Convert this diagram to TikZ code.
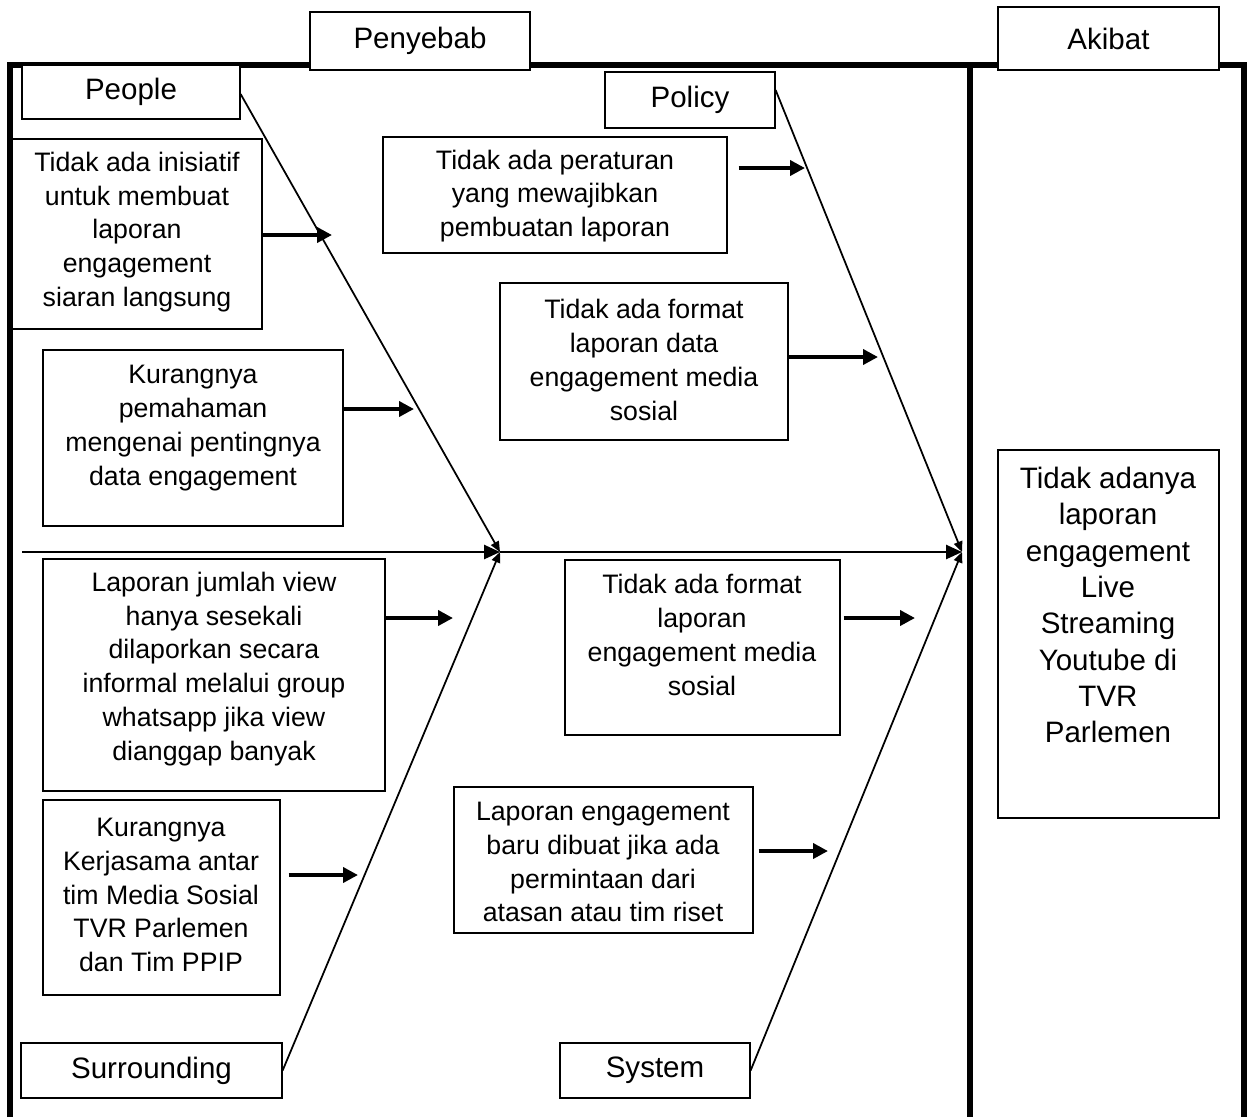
\documentclass[tikz,border=0pt]{standalone}
\usepackage{fontspec}
\setmainfont{Liberation Sans}
\usetikzlibrary{arrows.meta}
\newcommand\mkbox[6][]{%
  \node[box,#1, minimum width={(#5-#3)*0.02cm}, minimum height={(#6-#4)*0.02cm}] (#2) at ({(#3+#5)/2},{(#4+#6)/2}) {};}
\begin{document}
\begin{tikzpicture}[x=0.02cm,y=-0.02cm,
  frame/.style={line width=3pt},
  box/.style={draw, line width=0.7pt, fill=white, inner sep=0pt},
  txt/.style={align=center, inner sep=0pt, font=\fontsize{15.2}{19.3}\selectfont},
  bigtxt/.style={align=center, inner sep=0pt, font=\fontsize{16.8}{20.7}\selectfont},
  bone/.style={line width=1pt, -{Triangle[length=6pt,width=5pt]}},
  spine/.style={line width=1.1pt, -{Triangle[length=9pt,width=8pt]}},
  arr/.style={line width=2.7pt, -{Triangle[length=8.5pt,width=8.5pt]}}]
\useasboundingbox (0,0) rectangle (1247,1117);
% frame
\draw[frame] (10,1117) |- (1244,65) -- (1244,1117);
\draw[frame] (970,65) -- (970,1117);
% header boxes
\mkbox{penyebab}{310}{12}{530}{70}
\node[bigtxt] (penyebabt) at (penyebab) {Penyebab};
\mkbox{akibat}{998}{7}{1219}{70}
\node[bigtxt] (akibatt) at (akibat) {Akibat};
\mkbox{people}{22}{65}{240}{119}
\node[bigtxt] (peoplet) at (people) {People};
\mkbox{policy}{605}{72}{775}{128}
\node[bigtxt] (policyt) at (policy) {Policy};
\mkbox{surr}{21}{1043}{282}{1098}
\node[bigtxt] (surrt) at (surr) {Surrounding};
\mkbox{system}{560}{1043}{750}{1098}
\node[bigtxt] (systemt) at (system) {System};
% cause boxes
\mkbox{b1}{12}{139}{262}{329}
\node[txt] (t1) at (137,232) {Tidak ada inisiatif\\untuk membuat\\laporan\\engagement\\siaran langsung};
\mkbox{b2}{43}{350}{343}{526}
\node[txt] (t2) at (193,428) {Kurangnya\\pemahaman\\mengenai pentingnya\\data engagement};
\mkbox{b3}{383}{137}{727}{253}
\node[txt] (t3) at (555,196) {Tidak ada peraturan\\yang mewajibkan\\pembuatan laporan};
\mkbox{b4}{500}{283}{788}{440}
\node[txt] (t4) at (644,360) {Tidak ada format\\laporan data\\engagement media\\sosial};
\mkbox{b5}{43}{559}{385}{791}
\node[txt] (t5) at (214,669) {Laporan jumlah view\\hanya sesekali\\dilaporkan secara\\informal melalui group\\whatsapp jika view\\dianggap banyak};
\mkbox{b6}{565}{560}{840}{735}
\node[txt] (t6) at (702,635) {Tidak ada format\\laporan\\engagement media\\sosial};
\mkbox{b7}{43}{800}{280}{995}
\node[txt] (t7) at (161,895) {Kurangnya\\Kerjasama antar\\tim Media Sosial\\TVR Parlemen\\dan Tim PPIP};
\mkbox{b8}{454}{787}{753}{933}
\node[txt] (t8) at (603,862) {Laporan engagement\\baru dibuat jika ada\\permintaan dari\\atasan atau tim riset};
% effect box
\mkbox{res}{998}{450}{1219}{818}
\node[bigtxt] (rest) at (1108,605) {Tidak adanya\\laporan\\engagement\\Live\\Streaming\\Youtube di\\TVR\\Parlemen};
% spine and bones
\coordinate (s0) at (22,552);
\coordinate (j1) at (500,552);
\coordinate (j2) at (962,552);
\draw[spine] (s0) -- (j1);
\draw[spine] (j1) -- (j2);
\draw[bone] ([yshift=-0.04cm]people.east) -- (j1);
\draw[bone] (surr.east) -- (j1);
\draw[bone] ([yshift=0.2cm]policy.east) -- (j2);
\draw[bone] (system.east) -- (j2);
% small arrows
\coordinate (e1) at (332,235);
\coordinate (e2) at (414,409);
\coordinate (e3) at (805,168);
\coordinate (e4) at (878,357);
\coordinate (e5) at (453,618);
\coordinate (e6) at (915,618);
\coordinate (e7) at (358,875);
\coordinate (e8) at (828,851);
\draw[arr] (b1.east |- e1) -- (e1);
\draw[arr] (b2.east |- e2) -- (e2);
\draw[arr] ([xshift=0.22cm]b3.east |- e3) -- (e3);
\draw[arr] (b4.east |- e4) -- (e4);
\draw[arr] (b5.east |- e5) -- (e5);
\draw[arr] ([xshift=0.06cm]b6.east |- e6) -- (e6);
\draw[arr] ([xshift=0.16cm]b7.east |- e7) -- (e7);
\draw[arr] ([xshift=0.1cm]b8.east |- e8) -- (e8);
\end{tikzpicture}
\end{document}
